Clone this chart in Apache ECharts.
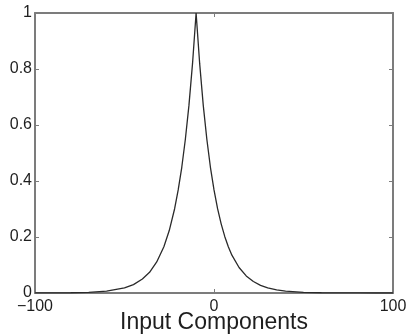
<!DOCTYPE html>
<html>
<head>
<meta charset="utf-8">
<script src="https://cdn.jsdelivr.net/npm/echarts@6/dist/echarts.min.js"></script>
<style>
  html, body { margin: 0; padding: 0; background: #fff; }
  #chart { width: 406px; height: 336px; }
</style>
</head>
<body>
<div id="chart"></div>
<script>
// Input component values and their response (peaked curve centred near -10)
const xValues = [-100, -90, -80, -70, -60, -50, -45, -40, -36, -32, -28, -25, -22, -20, -18, -16, -14, -12,
  -10, -8, -6, -4, -2, 0, 2, 4, 6, 8, 10, 14, 18, 22, 26, 30, 35, 40, 50, 60, 70, 80, 90, 100];
const yValues = [0.0001, 0.0003, 0.0009, 0.0025, 0.0067, 0.018, 0.030, 0.050, 0.074, 0.111, 0.165, 0.223, 0.301, 0.368, 0.449, 0.549, 0.670, 0.819,
  1.0, 0.819, 0.670, 0.549, 0.449, 0.368, 0.301, 0.247, 0.202, 0.165, 0.135, 0.091, 0.061, 0.041, 0.027, 0.018, 0.011, 0.0067, 0.0025, 0.0009, 0.0003, 0.0001, 0.00005, 0.00002];

const xTicks = [-100, 0, 100];
const yTicks = [0, 0.2, 0.4, 0.6, 0.8, 1];
const xTitle = 'Input Components';

const points = xValues.map((x, i) => [x, yValues[i]]);

const axisColor = '#7c7c7c';
const textColor = '#1e1e1e';
const fontFamily = '"Liberation Sans", Arial, Helvetica, sans-serif';

const chart = echarts.init(document.getElementById('chart'), null, { renderer: 'canvas' });

const xAxisBase = {
  type: 'value', min: xTicks[0], max: xTicks[xTicks.length - 1], interval: 100,
  splitLine: { show: false },
  axisLine: { show: true, onZero: false, lineStyle: { color: axisColor, width: 2 } },
  axisTick: { show: true, inside: true, length: 4, lineStyle: { color: axisColor, width: 1 } }
};
const yAxisBase = {
  type: 'value', min: yTicks[0], max: yTicks[yTicks.length - 1], interval: 0.2,
  splitLine: { show: false },
  axisLine: { show: true, onZero: false, lineStyle: { color: axisColor, width: 2 } },
  axisTick: { show: true, inside: true, length: 4, lineStyle: { color: axisColor, width: 1 } }
};

chart.setOption({
  animation: false,
  backgroundColor: '#ffffff',
  grid: { left: 35, right: 13, top: 13, bottom: 43, containLabel: false, outerBoundsMode: 'none' },
  xAxis: [
    Object.assign({}, xAxisBase, {
      position: 'bottom',
      name: xTitle, nameLocation: 'middle', nameGap: 30, nameMoveOverlap: false,
      nameTextStyle: { color: textColor, fontSize: 23, fontFamily: fontFamily, verticalAlign: 'middle' },
      axisLabel: {
        color: textColor, fontSize: 16, fontFamily: fontFamily, margin: 6,
        formatter: v => (v < 0 ? '\u2212' + Math.abs(v) : String(v))
      }
    }),
    Object.assign({}, xAxisBase, { position: 'top', axisLabel: { show: false } })
  ],
  yAxis: [
    Object.assign({}, yAxisBase, {
      position: 'left',
      axisLabel: {
        color: textColor, fontSize: 16, fontFamily: fontFamily, margin: 3,
        formatter: v => String(Math.round(v * 10) / 10)
      }
    }),
    Object.assign({}, yAxisBase, { position: 'right', axisLabel: { show: false } })
  ],
  series: [{
    type: 'line',
    xAxisIndex: 0, yAxisIndex: 0,
    data: points,
    showSymbol: false,
    smooth: false,
    lineStyle: { color: '#2a2a2a', width: 1.3 },
    z: 3
  }]
});
</script>
</body>
</html>
